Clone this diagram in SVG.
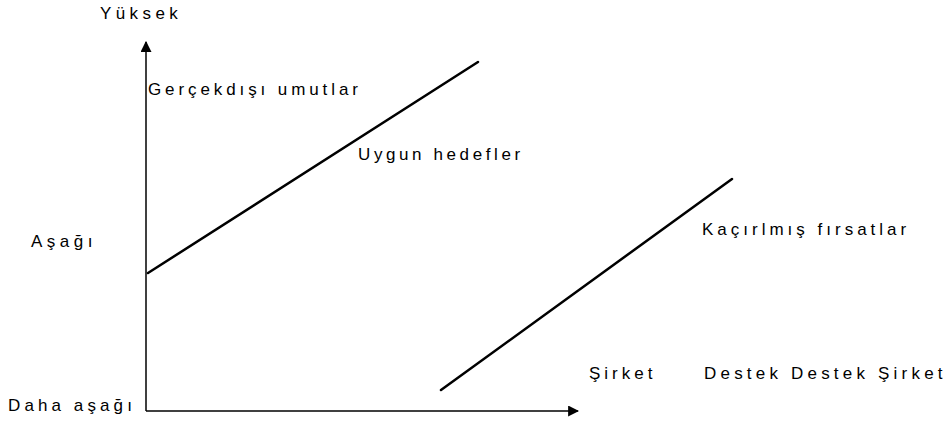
<svg xmlns="http://www.w3.org/2000/svg" width="951" height="424" viewBox="0 0 951 424">
<style>
text{font-family:"Liberation Sans",Arial,sans-serif;font-size:17px;letter-spacing:4px;fill:#000}
.ax{stroke:#000;stroke-width:1.5;fill:none}
.ln{stroke:#000;stroke-width:2.5;fill:none;stroke-linecap:round}
</style>
<defs>
<marker id="arr" viewBox="0 0 10 10" refX="9" refY="5" markerWidth="11" markerHeight="11" markerUnits="userSpaceOnUse" orient="auto">
<path d="M0,0 L10,5 L0,10 z" fill="#000"/>
</marker>
</defs>
<rect width="951" height="424" fill="#fff"/>
<g id="connectors">
<line class="ax" x1="146" y1="411" x2="146" y2="42" marker-end="url(#arr)"/>
<line class="ax" x1="146" y1="411" x2="578" y2="411" marker-end="url(#arr)"/>
<line class="ln" x1="148" y1="273" x2="478" y2="62"/>
<line class="ln" x1="441" y1="390" x2="732" y2="179"/>
</g>
<g id="yuksek"><text x="100" y="19" style="letter-spacing:4.4px">Yüksek</text></g>
<g id="gercekdisi"><text x="148" y="95" style="letter-spacing:3.9px">Gerçekdışı umutlar</text></g>
<g id="uygun"><text x="358" y="160" style="letter-spacing:3.6px">Uygun hedefler</text></g>
<g id="asagi"><text x="31" y="247" style="letter-spacing:4.5px">Aşağı</text></g>
<g id="kacirilmis"><text x="702" y="235" style="letter-spacing:4px">Kaçırlmış fırsatlar</text></g>
<g id="sirket"><text x="589" y="379">Şirket</text></g>
<g id="destek"><text x="704" y="379" style="letter-spacing:4.2px">Destek Destek Şirket</text></g>
<g id="daha"><text x="8" y="411" style="letter-spacing:4.1px">Daha aşağı</text></g>
</svg>
